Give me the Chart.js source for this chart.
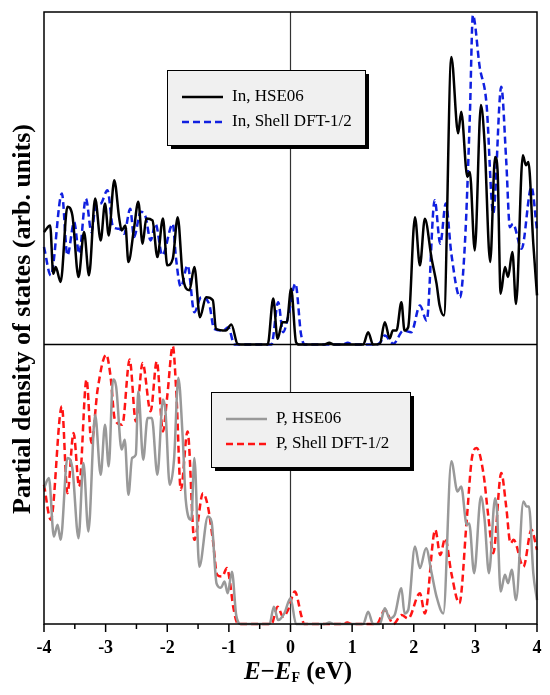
<!DOCTYPE html>
<html lang="en">
<head>
  <meta charset="UTF-8" />
  <title>Partial density of states - InP</title>
  <script src="https://cdn.jsdelivr.net/npm/chart.js"></script>
  <style>
    html, body { margin: 0; padding: 0; background: #fff; }
    #wrap { position: relative; width: 550px; height: 695px; }
  </style>
</head>
<body>
  <div id="wrap"><canvas id="chart"></canvas></div>

  <script>
    // In, HSE06 (black solid) - energy (eV) and PDOS (arb. units, 0-100)
    const inHseE = [
      -4.00, -3.90, -3.85, -3.81, -3.73, -3.62, -3.54, -3.44, -3.35, -3.27,
      -3.17, -3.08, -3.01, -2.95, -2.86, -2.78, -2.74, -2.68, -2.63, -2.54,
      -2.47, -2.40, -2.34, -2.24, -2.16, -2.07, -2.00, -1.91, -1.83, -1.75,
      -1.64, -1.56, -1.47, -1.37, -1.26, -1.21, -1.05, -0.96, -0.86, -0.80,
      -0.37, -0.28, -0.21, -0.13, -0.06, 0.01, 0.09, 0.14, 0.55, 0.63,
      0.70, 1.18, 1.26, 1.34, 1.45, 1.53, 1.61, 1.66, 1.72, 1.80,
      1.85, 1.91, 2.02, 2.10, 2.18, 2.29, 2.37, 2.42, 2.49, 2.61,
      2.72, 2.77, 2.87, 2.91, 2.99, 3.09, 3.15, 3.24, 3.32, 3.36,
      3.41, 3.48, 3.53, 3.60, 3.66, 3.77, 3.82, 3.86, 3.94, 4.00
    ];
    const inHseV = [
      33.8, 35.8, 21.3, 23.3, 18.8, 41.4, 38.9, 20.3, 33.8, 20.8,
      43.9, 31.3, 42.4, 32.8, 49.4, 38.0, 34.3, 35.8, 24.8, 34.8,
      42.9, 30.3, 37.9, 37.3, 26.3, 37.9, 23.8, 25.8, 38.3, 20.8,
      16.3, 23.3, 8.2, 14.2, 13.3, 4.7, 4.2, 6.0, 0.2, 0,
      0, 13.8, 1.7, 6.7, 6.7, 16.8, 0.7, 0, 0, 0.5,
      0, 0, 3.7, 0, 0.2, 6.7, 1.8, 4.2, 4.2, 12.7,
      4.2, 5.2, 38.3, 23.8, 37.8, 25.8, 18.3, 11.7, 8.7, 86.5,
      63.5, 70.0, 50.4, 51.9, 28.3, 72.0, 60.5, 24.8, 56.4, 52.4,
      15.3, 23.3, 20.3, 27.8, 12.2, 56.9, 53.9, 54.9, 30.3, 14.8
    ];

    // In, Shell DFT-1/2 (blue dashed)
    const inShellE = [
      -4.00, -3.89, -3.71, -3.62, -3.51, -3.43, -3.32, -3.23, -3.16, -3.08,
      -2.97, -2.88, -2.78, -2.70, -2.60, -2.54, -2.43, -2.35, -2.27, -2.19,
      -2.08, -1.91, -1.86, -1.78, -1.67, -1.56, -1.45, -1.32, -1.24, -1.09,
      -1.01, -0.91, -0.31, -0.20, -0.12, -0.04, 0.08, 0.17, 0.23, 0.85,
      0.93, 1.00, 1.40, 1.46, 1.53, 1.67, 1.83, 1.96, 2.10, 2.21,
      2.34, 2.43, 2.52, 2.61, 2.75, 2.83, 2.91, 2.96, 3.07, 3.18,
      3.29, 3.42, 3.50, 3.56, 3.61, 3.75, 3.91, 4.00
    ];
    const inShellV = [
      29.3, 20.8, 45.4, 26.8, 36.8, 27.3, 43.9, 33.8, 41.9, 42.4,
      46.4, 35.3, 34.8, 33.3, 40.8, 32.3, 39.9, 38.3, 31.3, 36.3,
      26.8, 36.3, 26.3, 17.3, 23.8, 9.7, 14.2, 12.2, 4.7, 4.2,
      5.2, 0, 0, 12.7, 3.7, 8.2, 18.3, 3.2, 0, 0,
      0.5, 0, 0, 0.7, 2.7, 0.2, 4.2, 3.7, 11.7, 7.2,
      43.4, 30.3, 42.4, 27.3, 14.2, 30.3, 68.5, 99.1, 83.5, 72.5,
      39.4, 77.5, 55.4, 35.3, 36.3, 28.8, 47.4, 34.3
    ];

    // P, HSE06 (grey solid)
    const pHseE = [
      -4.00, -3.92, -3.84, -3.78, -3.73, -3.62, -3.54, -3.44, -3.36, -3.28,
      -3.17, -3.08, -3.01, -2.95, -2.88, -2.83, -2.74, -2.69, -2.63, -2.57,
      -2.51, -2.47, -2.39, -2.32, -2.25, -2.16, -2.07, -2.03, -1.96, -1.89,
      -1.82, -1.75, -1.70, -1.61, -1.56, -1.48, -1.34, -1.28, -1.20, -1.13,
      -1.07, -1.02, -0.95, -0.88, -0.80, -0.34, -0.27, -0.20, -0.10, 0.00,
      0.09, 0.55, 0.63, 0.72, 1.18, 1.26, 1.34, 1.45, 1.53, 1.61,
      1.69, 1.80, 1.85, 1.91, 2.02, 2.10, 2.20, 2.29, 2.37, 2.48,
      2.61, 2.71, 2.77, 2.86, 2.90, 2.98, 3.09, 3.15, 3.22, 3.32,
      3.35, 3.41, 3.48, 3.53, 3.59, 3.66, 3.78, 3.83, 3.87, 3.94,
      4.00
    ];
    const pHseV = [
      48.6, 52.2, 31.3, 35.5, 30.1, 59.4, 55.8, 30.7, 57.6, 33.1,
      74.9, 53.4, 71.3, 56.4, 87.5, 85.0, 62.4, 65.9, 46.2, 59.4,
      60.6, 83.3, 58.8, 73.7, 73.7, 53.4, 80.3, 76.5, 49.8, 58.8,
      88.1, 67.1, 44.4, 37.3, 59.4, 20.5, 38.5, 36.5, 14.5, 13.0,
      15.2, 11.0, 18.7, 3.0, 0, 0, 6.2, 1.4, 3.8, 9.2,
      0, 0, 0.5, 0, 0, 4.4, 0, 0, 5.6, 2.0,
      3.2, 12.8, 3.8, 5.0, 27.7, 20.0, 27.1, 18.2, 9.8, 3.8,
      58.2, 47.4, 49.2, 35.5, 36.0, 18.2, 45.6, 37.3, 18.2, 45.0,
      41.0, 11.6, 17.6, 14.6, 19.4, 8.6, 43.8, 42.0, 42.0, 18.2,
      8.6
    ];

    // P, Shell DFT-1/2 (red dashed)
    const pShellE = [
      -4.00, -3.89, -3.71, -3.62, -3.52, -3.43, -3.31, -3.23, -3.13, -2.99,
      -2.92, -2.85, -2.73, -2.61, -2.51, -2.40, -2.27, -2.17, -2.07, -2.00,
      -1.91, -1.85, -1.78, -1.67, -1.56, -1.42, -1.34, -1.26, -1.19, -1.11,
      -1.03, -0.98, -0.93, -0.85, -0.31, -0.21, -0.12, -0.04, 0.07, 0.18,
      0.22, 0.85, 0.92, 1.00, 1.40, 1.53, 1.67, 1.80, 1.91, 2.10,
      2.18, 2.35, 2.43, 2.51, 2.61, 2.74, 2.86, 2.94, 3.02, 3.13,
      3.21, 3.29, 3.42, 3.50, 3.57, 3.62, 3.78, 3.91, 4.00
    ];
    const pShellV = [
      49.8, 37.3, 77.9, 46.8, 68.3, 49.2, 87.5, 64.8, 83.9, 96.4,
      88.6, 73.1, 71.3, 94.6, 72.5, 93.4, 76.1, 94.0, 68.9, 81.5,
      99.4, 81.5, 48.0, 68.9, 30.1, 46.8, 42.0, 30.1, 17.6, 17.0,
      20.0, 14.6, 6.2, 0, 0, 6.2, 2.6, 5.0, 11.6, 2.6,
      0, 0, 0.5, 0, 0, 5.0, 0, 3.2, 2.0, 11.0,
      3.8, 33.7, 24.7, 30.7, 18.2, 7.4, 37.3, 58.8, 63.0, 54.0,
      38.5, 25.3, 54.0, 42.0, 28.9, 30.1, 20.5, 33.7, 26.5
    ];

    const seriesLabels = ["In, HSE06", "In, Shell DFT-1/2", "P, HSE06", "P, Shell DFT-1/2"];
    const xMin = -4, xMax = 4, xStep = 0.5;

    const serif = "'Liberation Serif', 'Times New Roman', serif";

    function toPoints(es, vs) {
      return es.map((e, i) => ({ x: e, y: vs[i] }));
    }

    // legend boxes drawn inside each panel
    const legendBoxes = [
      { x: 167, y: 70, w: 198, h: 75, items: [0, 1] },
      { x: 211, y: 392, w: 199, h: 75, items: [2, 3] }
    ];

    const decorPlugin = {
      id: 'decor',
      beforeDatasetsDraw(chart) {
        const { ctx, chartArea: a, scales } = chart;
        // vertical line at the Fermi level
        const x0 = scales.x.getPixelForValue(0);
        ctx.save();
        ctx.strokeStyle = '#333';
        ctx.lineWidth = 1.2;
        ctx.beginPath();
        ctx.moveTo(x0, a.top);
        ctx.lineTo(x0, a.bottom);
        ctx.stroke();
        ctx.restore();
      },
      afterDraw(chart) {
        const { ctx, chartArea: a, scales } = chart;
        ctx.save();

        // frame and panel divider
        ctx.strokeStyle = '#000';
        ctx.lineWidth = 1.5;
        ctx.strokeRect(a.left, a.top, a.right - a.left, a.bottom - a.top);
        const yDiv = scales.yTop.bottom;
        ctx.beginPath();
        ctx.moveTo(a.left, yDiv);
        ctx.lineTo(a.right, yDiv);
        ctx.stroke();

        // outward tick marks on the energy axis
        ctx.lineWidth = 1.5;
        scales.x.ticks.forEach(t => {
          const px = scales.x.getPixelForValue(t.value);
          const len = Number.isInteger(t.value) ? 8 : 5;
          ctx.beginPath();
          ctx.moveTo(px, a.bottom);
          ctx.lineTo(px, a.bottom + len);
          ctx.stroke();
        });

        // legends
        legendBoxes.forEach(b => {
          ctx.fillStyle = '#000';
          ctx.fillRect(b.x + 4, b.y + 4, b.w, b.h);
          ctx.fillStyle = '#f0f0f0';
          ctx.fillRect(b.x, b.y, b.w, b.h);
          ctx.lineWidth = 1;
          ctx.strokeStyle = '#000';
          ctx.setLineDash([]);
          ctx.strokeRect(b.x + 0.5, b.y + 0.5, b.w, b.h);
          b.items.forEach((di, k) => {
            const ds = chart.data.datasets[di];
            const ly = b.y + 27 + k * 25;
            ctx.save();
            ctx.strokeStyle = ds.borderColor;
            ctx.lineWidth = ds.borderWidth;
            ctx.setLineDash(ds.borderDash || []);
            ctx.beginPath();
            ctx.moveTo(b.x + 15, ly);
            ctx.lineTo(b.x + 56, ly);
            ctx.stroke();
            ctx.restore();
            ctx.fillStyle = '#000';
            ctx.font = '17px ' + serif;
            ctx.textAlign = 'left';
            ctx.textBaseline = 'middle';
            ctx.fillText(ds.label, b.x + 65, ly);
          });
        });

        // y axis title spanning both panels
        ctx.save();
        ctx.translate(23, 319);
        ctx.rotate(-Math.PI / 2);
        ctx.fillStyle = '#000';
        ctx.font = 'bold 26px ' + serif;
        ctx.textAlign = 'center';
        ctx.textBaseline = 'middle';
        ctx.fillText('Partial density of states (arb. units)', 0, 0);
        ctx.restore();

        // x axis title: E - E_F (eV)
        const parts = [
          { t: 'E', f: 'italic bold 25px ' + serif, dy: 0 },
          { t: '\u2212', f: 'bold 25px ' + serif, dy: 0 },
          { t: 'E', f: 'italic bold 25px ' + serif, dy: 0 },
          { t: 'F', f: 'bold 14px ' + serif, dy: 3 },
          { t: ' (eV)', f: 'bold 25px ' + serif, dy: 0 }
        ];
        let total = 0;
        parts.forEach(p => { ctx.font = p.f; p.w = ctx.measureText(p.t).width; total += p.w; });
        let cx = 298 - total / 2;
        ctx.fillStyle = '#000';
        ctx.textAlign = 'left';
        ctx.textBaseline = 'alphabetic';
        parts.forEach(p => {
          ctx.font = p.f;
          ctx.fillText(p.t, cx, 679 + p.dy);
          cx += p.w;
        });

        ctx.restore();
      }
    };

    const hiddenY = (weight) => ({
      type: 'linear',
      position: 'left',
      stack: 'pdos',
      stackWeight: weight,
      min: 0,
      max: 100,
      ticks: { display: false },
      grid: { display: false, drawTicks: false },
      border: { display: false },
      afterFit(s) { s.width = 0; }
    });

    new Chart(document.getElementById('chart'), {
      type: 'line',
      data: {
        datasets: [
          { label: seriesLabels[0], data: toPoints(inHseE, inHseV), yAxisID: 'yTop',
            borderColor: '#000000', borderWidth: 2.5, clip: 4 },
          { label: seriesLabels[1], data: toPoints(inShellE, inShellV), yAxisID: 'yTop',
            borderColor: '#1020e0', borderWidth: 2.5, borderDash: [7, 4], clip: 4 },
          { label: seriesLabels[2], data: toPoints(pHseE, pHseV), yAxisID: 'yBot',
            borderColor: '#999999', borderWidth: 2.5, clip: 4 },
          { label: seriesLabels[3], data: toPoints(pShellE, pShellV), yAxisID: 'yBot',
            borderColor: '#ff1414', borderWidth: 2.5, borderDash: [7, 4], clip: 4 }
        ]
      },
      options: {
        responsive: true,
        maintainAspectRatio: false,
        animation: false,
        layout: { padding: { left: 44, right: 13, top: 12, bottom: 0 } },
        elements: {
          point: { radius: 0 },
          line: { cubicInterpolationMode: 'monotone', fill: false }
        },
        plugins: {
          legend: { display: false },
          tooltip: { enabled: false }
        },
        scales: {
          x: {
            type: 'linear',
            min: xMin,
            max: xMax,
            // grid hidden; tickLength only offsets the labels (marks drawn by plugin)
            grid: { display: false, drawTicks: true, tickLength: 14 },
            border: { display: false },
            ticks: {
              stepSize: xStep,
              autoSkip: false,
              maxRotation: 0,
              padding: 0,
              color: '#000',
              font: { family: serif, size: 18, weight: 'bold' },
              callback: v => Number.isInteger(v) ? String(v) : ''
            },
            afterFit(s) { s.height = 71; }
          },
          yBot: hiddenY(279.5),
          yTop: hiddenY(332.5)
        }
      },
      plugins: [decorPlugin]
    });
  </script>
</body>
</html>
